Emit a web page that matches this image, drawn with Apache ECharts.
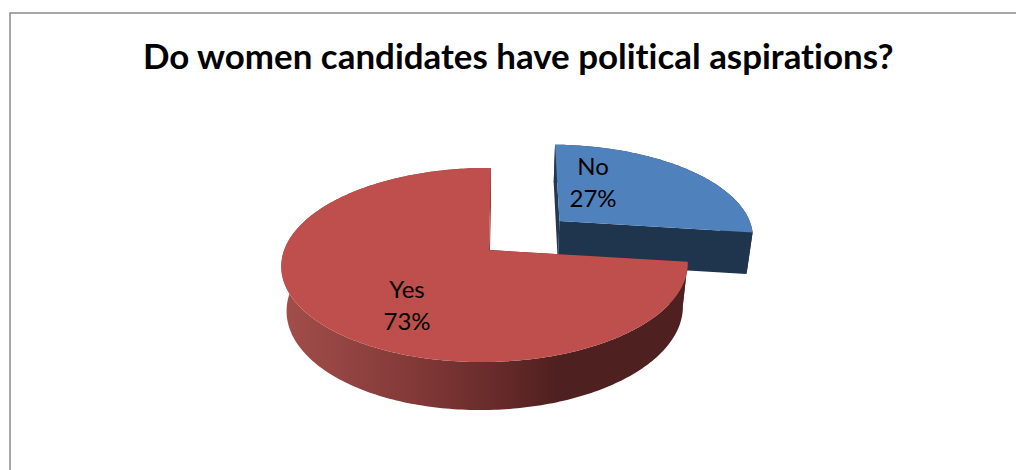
<!DOCTYPE html>
<html><head><meta charset="utf-8">
<script src="https://cdn.jsdelivr.net/npm/echarts@6/dist/echarts.min.js"></script>
<style>html,body{margin:0;padding:0;background:#fff}#c{width:1016px;height:470px;font-variant-ligatures:none}#c text{font-variant-ligatures:none}</style>
</head><body><div id="c"></div>
<script>
const titleText = 'Do women candidates have political aspirations?';
const categories = ['No', 'Yes'];
const values = [27, 73];
const explode = [0.49, 0];
const radiusScale = [1.03, 1];
const sliceShear = [-0.017, 0];
const faceColors = ['#4F81BD', '#BE4F4C'];
const startWallColors = ['#24394F', '#4E201F'];
const endWallColors = ['#1F344D', '#8A3D3B'];
const sideColors = [
  '#1F344D',
  {type:'linear',x:0,y:0,x2:1,y2:0,colorStops:[
    {offset:0,color:'#A34E4B'},{offset:0.3,color:'#853B39'},
    {offset:0.55,color:'#652929'},{offset:0.68,color:'#4E201F'},{offset:1,color:'#4E201F'}]}
];
const labelAnchors = [[593,181],[407,304]];

// Perspective camera of the tilted pie
const cam = {x0:489,y0:250,b:200.7,c:-2.3,a:94.7,k:-0.155,m:0.02,g:44.5,n:0.025};
function proj(u,v,z){
  const d = 1 + cam.k*v + cam.m*u + cam.n*z;
  return [cam.x0 + (cam.b*u + cam.c*v)/d, cam.y0 + (cam.a*v + cam.g*z)/d];
}
const total = values.reduce((s,v)=>s+v,0);

function renderItem(params){
  const i = params.dataIndex;
  let before = 0;
  for (let j=0;j<i;j++) before += values[j];
  const a0 = before/total*2*Math.PI, a1 = (before+values[i])/total*2*Math.PI;
  const mid = (a0+a1)/2;
  const ou = Math.sin(mid)*explode[i], ov = -Math.cos(mid)*explode[i];
  const R = radiusScale[i], sh = sliceShear[i];
  const P = (r,a,z)=>proj(ou+r*R*(Math.sin(a)-sh*Math.cos(a)), ov-r*R*Math.cos(a), z);
  const top=[], bottom=[];
  const steps = Math.ceil((a1-a0)/(Math.PI/180));
  for (let s=0;s<=steps;s++){
    const a = a0+(a1-a0)*s/steps;
    top.push(P(1,a,0)); bottom.push(P(1,a,1));
  }
  const poly=(points,fill)=>({type:'polygon',shape:{points},style:{fill},silent:true});
  const children=[
    poly(top.concat(bottom.slice().reverse()),sideColors[i]),
    poly([P(0,a0,0),P(1,a0,0),P(1,a0,1),P(0,a0,1)],startWallColors[i]),
    poly([P(0,a1,0),P(1,a1,0),P(1,a1,1),P(0,a1,1)],endWallColors[i]),
    poly([P(0,a0,0)].concat(top),faceColors[i]),
    {type:'text',x:labelAnchors[i][0],y:labelAnchors[i][1],silent:true,
     style:{text:categories[i]+'\n'+Math.round(values[i]/total*100)+'%',
       font:'24px Lato, "Open Sans", sans-serif',fill:'#000',
       align:'center',verticalAlign:'middle',lineHeight:32}}
  ];
  return {type:'group',children};
}

const chart = echarts.init(document.getElementById('c'),null,{renderer:'svg'});
chart.setOption({
  animation:false,
  backgroundColor:'#fff',
  title:{text:titleText,left:138,top:33,
    textStyle:{fontFamily:'Lato, "Open Sans", sans-serif',fontWeight:'bold',fontSize:34.9,color:'#000'}},
  graphic:[{type:'polyline',silent:true,shape:{points:[[10,470],[10,13],[1016,13]]},
    style:{fill:null,stroke:'#8A8A8A',lineWidth:1.5}}],
  series:[{type:'custom',coordinateSystem:'none',renderItem,silent:true,
    data:values.map((v,i)=>({name:categories[i],value:v}))}]
});
</script></body></html>
